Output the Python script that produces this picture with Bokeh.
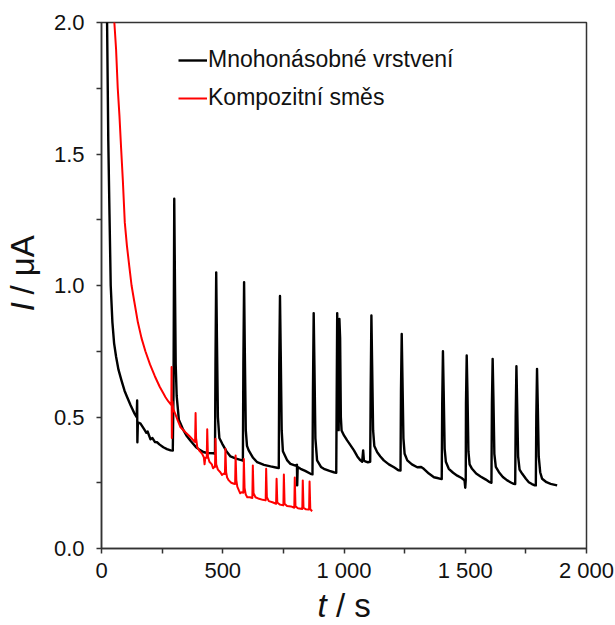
import math
from bokeh.plotting import figure
from bokeh.layouts import column, row
from bokeh.models import Range1d, FixedTicker, NumeralTickFormatter, Legend, LegendItem
from bokeh.core.properties import value
from bokeh.embed import file_html
from bokeh.resources import INLINE

# Chronoamperometric records: time (s) and current (uA)
t_multi = [19, 23, 28, 33, 38, 45, 52, 60, 70, 82, 95, 106, 120, 135, 145,
           147, 148, 150, 161, 175, 185, 190, 202, 210, 220, 229, 240, 255, 270, 285, 294,
           297, 300, 303, 306, 310, 319, 335, 350, 367, 390, 405, 422, 440, 463, 468,
           470, 473, 476, 480, 486, 498, 515, 532, 555, 580, 583,
           585, 588, 591, 595, 600, 607, 625, 642, 670, 697, 724, 731,
           733, 736, 739, 743, 748, 766, 779, 800, 806, 807, 809, 821, 840, 862, 870,
           872, 875, 878, 882, 889, 905, 917, 940, 958, 968,
           970, 972, 975, 978, 981, 984, 987, 990, 1000, 1013, 1025, 1041, 1055, 1068,
           1075, 1079, 1082, 1090, 1098, 1108,
           1110, 1113, 1116, 1120, 1125, 1137, 1150, 1164, 1185, 1206, 1220, 1226, 1233,
           1235, 1238, 1241, 1245, 1250, 1261, 1280, 1302, 1318, 1329, 1350, 1371, 1385,
           1398, 1403,
           1405, 1408, 1411, 1415, 1420, 1432, 1450, 1467, 1485, 1497, 1500, 1502,
           1503, 1506, 1509, 1513, 1518, 1528, 1545, 1563, 1585, 1601, 1608,
           1610, 1613, 1616, 1620, 1626, 1639, 1655, 1673, 1690, 1700, 1706,
           1708, 1711, 1714, 1718, 1724, 1735, 1750, 1762, 1775, 1787, 1791,
           1793, 1796, 1799, 1803, 1809, 1817, 1835, 1852, 1865, 1879]
i_multi = [2.6, 2.0, 1.55, 1.27, 1.0, 0.86, 0.78, 0.73, 0.68, 0.64, 0.60, 0.575, 0.545, 0.515, 0.50,
           0.563, 0.404, 0.48, 0.475, 0.455, 0.44, 0.445, 0.415, 0.42, 0.405, 0.404, 0.395, 0.385, 0.378, 0.373, 0.372,
           0.60, 1.33, 1.0, 0.70, 0.58, 0.49, 0.455, 0.43, 0.41, 0.385, 0.375, 0.366, 0.363, 0.362, 0.36,
           0.70, 1.05, 0.80, 0.50, 0.42, 0.398, 0.37, 0.35, 0.342, 0.335, 0.334,
           0.70, 1.013, 0.75, 0.45, 0.39, 0.373, 0.345, 0.328, 0.318, 0.312, 0.307, 0.306,
           0.70, 0.96, 0.75, 0.45, 0.37, 0.335, 0.322, 0.315, 0.318, 0.24, 0.31, 0.303, 0.295, 0.284, 0.282,
           0.60, 0.895, 0.70, 0.42, 0.335, 0.31, 0.303, 0.295, 0.29, 0.288,
           0.60, 0.895, 0.60, 0.45, 0.873, 0.80, 0.50, 0.449, 0.43, 0.411, 0.395, 0.373, 0.35, 0.335,
           0.33, 0.373, 0.335, 0.33, 0.328, 0.33,
           0.60, 0.886, 0.70, 0.45, 0.39, 0.366, 0.35, 0.335, 0.32, 0.309, 0.30, 0.297, 0.296,
           0.60, 0.816, 0.65, 0.42, 0.36, 0.335, 0.32, 0.309, 0.31, 0.303, 0.285, 0.271, 0.268,
           0.265, 0.264,
           0.55, 0.75, 0.60, 0.38, 0.33, 0.303, 0.288, 0.277, 0.268, 0.259, 0.231, 0.26,
           0.55, 0.734, 0.60, 0.37, 0.32, 0.303, 0.285, 0.274, 0.262, 0.252, 0.25,
           0.55, 0.721, 0.58, 0.36, 0.31, 0.29, 0.272, 0.259, 0.25, 0.246, 0.245,
           0.50, 0.693, 0.55, 0.35, 0.30, 0.284, 0.265, 0.252, 0.245, 0.24, 0.24,
           0.50, 0.683, 0.55, 0.35, 0.29, 0.265, 0.252, 0.246, 0.243, 0.24]

t_comp = [50, 53, 60, 67, 74, 81, 88, 96, 105, 115, 124, 135, 150, 165, 181, 200, 220, 240,
          255, 264, 275, 284, 288,
          289, 290, 292, 296, 305, 315, 326, 346, 360, 367, 380, 386,
          388, 390, 395, 405, 415, 422, 425, 428, 434,
          436, 439, 445, 455, 460, 465, 468,
          470, 473, 480, 490, 497, 505, 509,
          511, 514, 518, 525, 535, 546, 551,
          553, 556, 560, 567, 572, 578, 585,
          587, 590, 595, 601, 612, 622,
          624, 627, 635, 650, 665, 677,
          679, 682, 690, 705, 715, 720,
          722, 725, 735, 745, 750,
          752, 755, 765, 781, 795,
          797, 800, 810, 822, 828,
          830, 833, 843, 853, 856,
          858, 861, 866, 869]
i_comp = [2.3, 2.0, 1.9, 1.75, 1.646, 1.52, 1.40, 1.24, 1.15, 1.07, 1.0, 0.94, 0.86, 0.80, 0.75, 0.70, 0.655, 0.615,
          0.59, 0.575, 0.56, 0.55, 0.545,
          0.69, 0.42, 0.56, 0.53, 0.51, 0.485, 0.461, 0.442, 0.43, 0.423, 0.41, 0.405,
          0.515, 0.42, 0.385, 0.37, 0.36, 0.347, 0.32, 0.345, 0.345,
          0.453, 0.35, 0.33, 0.32, 0.305, 0.31, 0.31,
          0.417, 0.32, 0.30, 0.29, 0.28, 0.285, 0.283,
          0.379, 0.29, 0.27, 0.259, 0.25, 0.246, 0.245,
          0.354, 0.26, 0.235, 0.22, 0.21, 0.214, 0.212,
          0.34, 0.23, 0.205, 0.195, 0.195, 0.192,
          0.316, 0.21, 0.195, 0.189, 0.185, 0.183,
          0.303, 0.195, 0.18, 0.176, 0.172, 0.17,
          0.265, 0.175, 0.167, 0.165, 0.164,
          0.281, 0.17, 0.162, 0.16, 0.155,
          0.27, 0.16, 0.153, 0.151, 0.15,
          0.259, 0.155, 0.149, 0.148, 0.148,
          0.255, 0.15, 0.144, 0.142]

x_ticks = [0, 500, 1000, 1500, 2000]
x_tick_labels = ["0", "500", "1 000", "1 500", "2 000"]
x_minor = [250, 750, 1250, 1750]
y_ticks = [0, 0.5, 1.0, 1.5, 2.0]
y_minor = [0.25, 0.75, 1.25, 1.75]

FONT = "Liberation Sans"
AXIS_COLOR = "#333333"
TEXT_COLOR = "#111111"

# Page pieces: a 44 px strip on the left for the vertical title, the main plot,
# and a 40 px strip along the bottom for the horizontal title.
YLAB_W = 44
XLAB_H = 40
MAIN_W = 615 - YLAB_W
MAIN_H = 625 - XLAB_H

# Main plot: 485 x 526 px frame, left edge at x = 101
p = figure(width=MAIN_W, height=MAIN_H, output_backend="svg", toolbar_location=None,
           x_range=Range1d(0, 2000), y_range=Range1d(0, 2.0),
           min_border_left=101 - YLAB_W, min_border_right=29, min_border_top=22,
           min_border_bottom=MAIN_H - 548)
p.grid.visible = False
p.background_fill_color = "white"
p.border_fill_color = "white"
p.outline_line_color = AXIS_COLOR
p.outline_line_width = 1.5

for ax in (p.xaxis[0], p.yaxis[0]):
    ax.axis_line_color = AXIS_COLOR
    ax.axis_line_width = 1.5
    ax.major_tick_line_color = AXIS_COLOR
    ax.minor_tick_line_color = AXIS_COLOR
    ax.major_tick_line_width = 1.5
    ax.minor_tick_line_width = 1.5
    ax.major_tick_in = 0
    ax.major_tick_out = 5
    ax.minor_tick_in = 0
    ax.minor_tick_out = 5
    ax.major_label_text_font = FONT
    ax.major_label_text_font_size = "22px"
    ax.major_label_text_color = TEXT_COLOR
    ax.axis_label = None

p.xaxis[0].ticker = FixedTicker(ticks=x_ticks, minor_ticks=x_minor)
p.xaxis[0].major_label_overrides = {t: s for t, s in zip(x_ticks, x_tick_labels)}
p.xaxis[0].major_label_standoff = 4
p.yaxis[0].ticker = FixedTicker(ticks=y_ticks, minor_ticks=y_minor)
p.yaxis[0].formatter = NumeralTickFormatter(format="0.0")
p.yaxis[0].major_label_standoff = 12

r_multi = p.line(t_multi, i_multi, line_color="#000000", line_width=2.4,
                 line_join="round")
r_comp = p.line(t_comp, i_comp, line_color="#ff0000", line_width=2,
                line_join="round")

legend = Legend(items=[LegendItem(label="Mnohonásobné vrstvení", renderers=[r_multi]),
                       LegendItem(label="Kompozitní směs", renderers=[r_comp])],
                location=(77, 437), orientation="vertical",
                glyph_width=29, glyph_height=20, label_height=20, label_standoff=1,
                spacing=11, padding=0, margin=0,
                border_line_alpha=0, background_fill_alpha=0,
                label_text_font=FONT, label_text_font_size="23px",
                label_text_color=TEXT_COLOR)
p.add_layout(legend)


def title_strip(width, height):
    """A bare pixel-scaled canvas that carries an axis title."""
    f = figure(width=width, height=height, output_backend="svg", toolbar_location=None,
               x_range=Range1d(0, width), y_range=Range1d(0, height),
               x_axis_location=None, y_axis_location=None,
               min_border=0, outline_line_color=None)
    f.grid.visible = False
    f.background_fill_color = "white"
    f.border_fill_color = "white"
    return f


TITLE_SIZE = "33px"

# Vertical title: italic symbol I, then the unit (text centred on x = 22)
ylab = title_strip(YLAB_W, MAIN_H)
ylab.text(x=[22], y=[MAIN_H - 321], text=["I"], angle=math.pi / 2,
          text_font=value(FONT), text_font_size=TITLE_SIZE, text_font_style="italic",
          text_align="left", text_baseline="middle", text_color=TEXT_COLOR)
ylab.text(x=[22], y=[MAIN_H - 302.5], text=["/ μA"], angle=math.pi / 2,
          text_font=value(FONT), text_font_size=TITLE_SIZE,
          text_align="left", text_baseline="middle", text_color=TEXT_COLOR)

# Horizontal title: italic symbol t, then the unit (text centred on y = 605)
xlab = title_strip(615, XLAB_H)
xlab.text(x=[317], y=[625 - 605], text=["t"],
          text_font=value(FONT), text_font_size=TITLE_SIZE, text_font_style="italic",
          text_align="left", text_baseline="middle", text_color=TEXT_COLOR)
xlab.text(x=[335.5], y=[625 - 605], text=["/ s"],
          text_font=value(FONT), text_font_size=TITLE_SIZE,
          text_align="left", text_baseline="middle", text_color=TEXT_COLOR)

layout = column(row(ylab, p, spacing=0), xlab, spacing=0)

open("out.html", "w").write(file_html(layout, INLINE))
